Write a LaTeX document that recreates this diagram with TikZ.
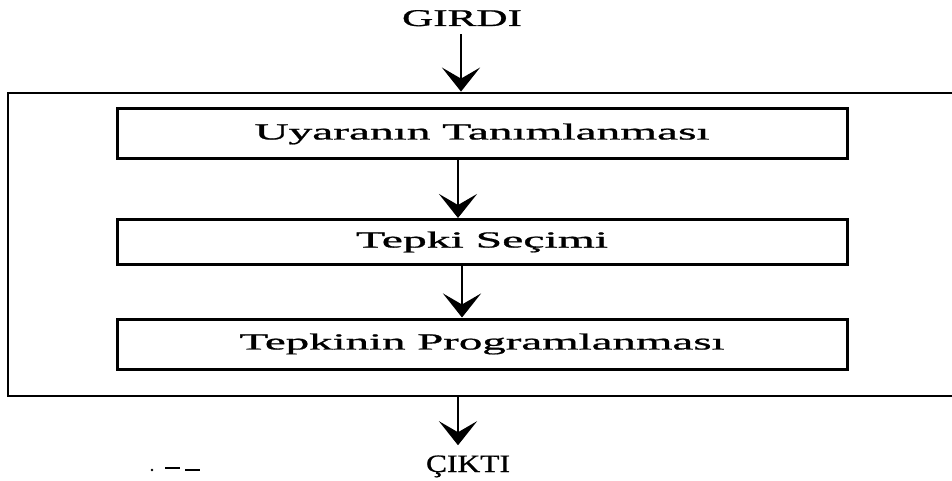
\documentclass[tikz,border=0pt]{standalone}
\usepackage{fontspec}
\setmainfont{Liberation Serif}[FakeBold=0.8]
\usetikzlibrary{arrows.meta,calc}
\newcommand\fitw[2]{\resizebox{#1}{\height}{#2}}
\tikzset{
  stagebox/.style={draw=black,line width=3pt,minimum width=730pt,inner sep=0pt,align=center},
  frame/.style={draw=black,line width=2.8pt,minimum width=962pt,minimum height=303pt,inner sep=0pt},
  label/.style={inner sep=0pt,text=black},
  arr/.style={draw=black,line width=2.8pt,-{Stealth[length=24pt,width=38pt,inset=11pt]}},
  speck/.style={draw=black,line width=2pt}
}
\begin{document}
\begin{tikzpicture}[x=1pt,y=-1pt]
\useasboundingbox[fill=white] (0,0) rectangle (952,481);
% outer frame (right side runs off the page)
\node[frame] (outer) at (489,244.5) {};
% stages
\node[stagebox,minimum height=50pt] (b1) at (482,134)
  {\fitw{455pt}{\fontsize{23}{27}\selectfont Uyaranın Tanımlanması}};
\node[stagebox,minimum height=45pt] (b2) at (482,242)
  {\fitw{252pt}{\fontsize{23}{27}\selectfont Tepki Seçimi}};
\node[stagebox,minimum height=50pt] (b3) at (482,344)
  {\fitw{485pt}{\fontsize{23}{27}\selectfont Tepkinin Programlanması}};
% input / output labels
\node[label,anchor=base] (girdi) at (462,26)
  {\fitw{120pt}{\fontsize{24}{28}\selectfont GIRDI}};
\node[label,anchor=base] (cikti) at (468,472)
  {\fitw{84pt}{\fontsize{25}{29}\selectfont ÇIKTI}};
% arrow positions
\coordinate (a0) at (461,0);
\coordinate (a1) at (458,0);
\coordinate (a2) at (462,0);
\coordinate (a3) at (458,0);
\draw[arr] ($(girdi.south -| a0)+(0,8)$) -- (outer.north -| a0);
\draw[arr] (b1.south -| a1) -- (b2.north -| a1);
\draw[arr] (b2.south -| a2) -- (b3.north -| a2);
\draw[arr,shorten >=10pt] (outer.south -| a3) -- (cikti.north -| a3);
% small marks at lower left
\fill (152,470) circle (1.3pt);
\draw[speck] (165,468) -- (180,468);
\draw[speck] (185,469.5) -- (200,469.5);
\end{tikzpicture}
\end{document}
